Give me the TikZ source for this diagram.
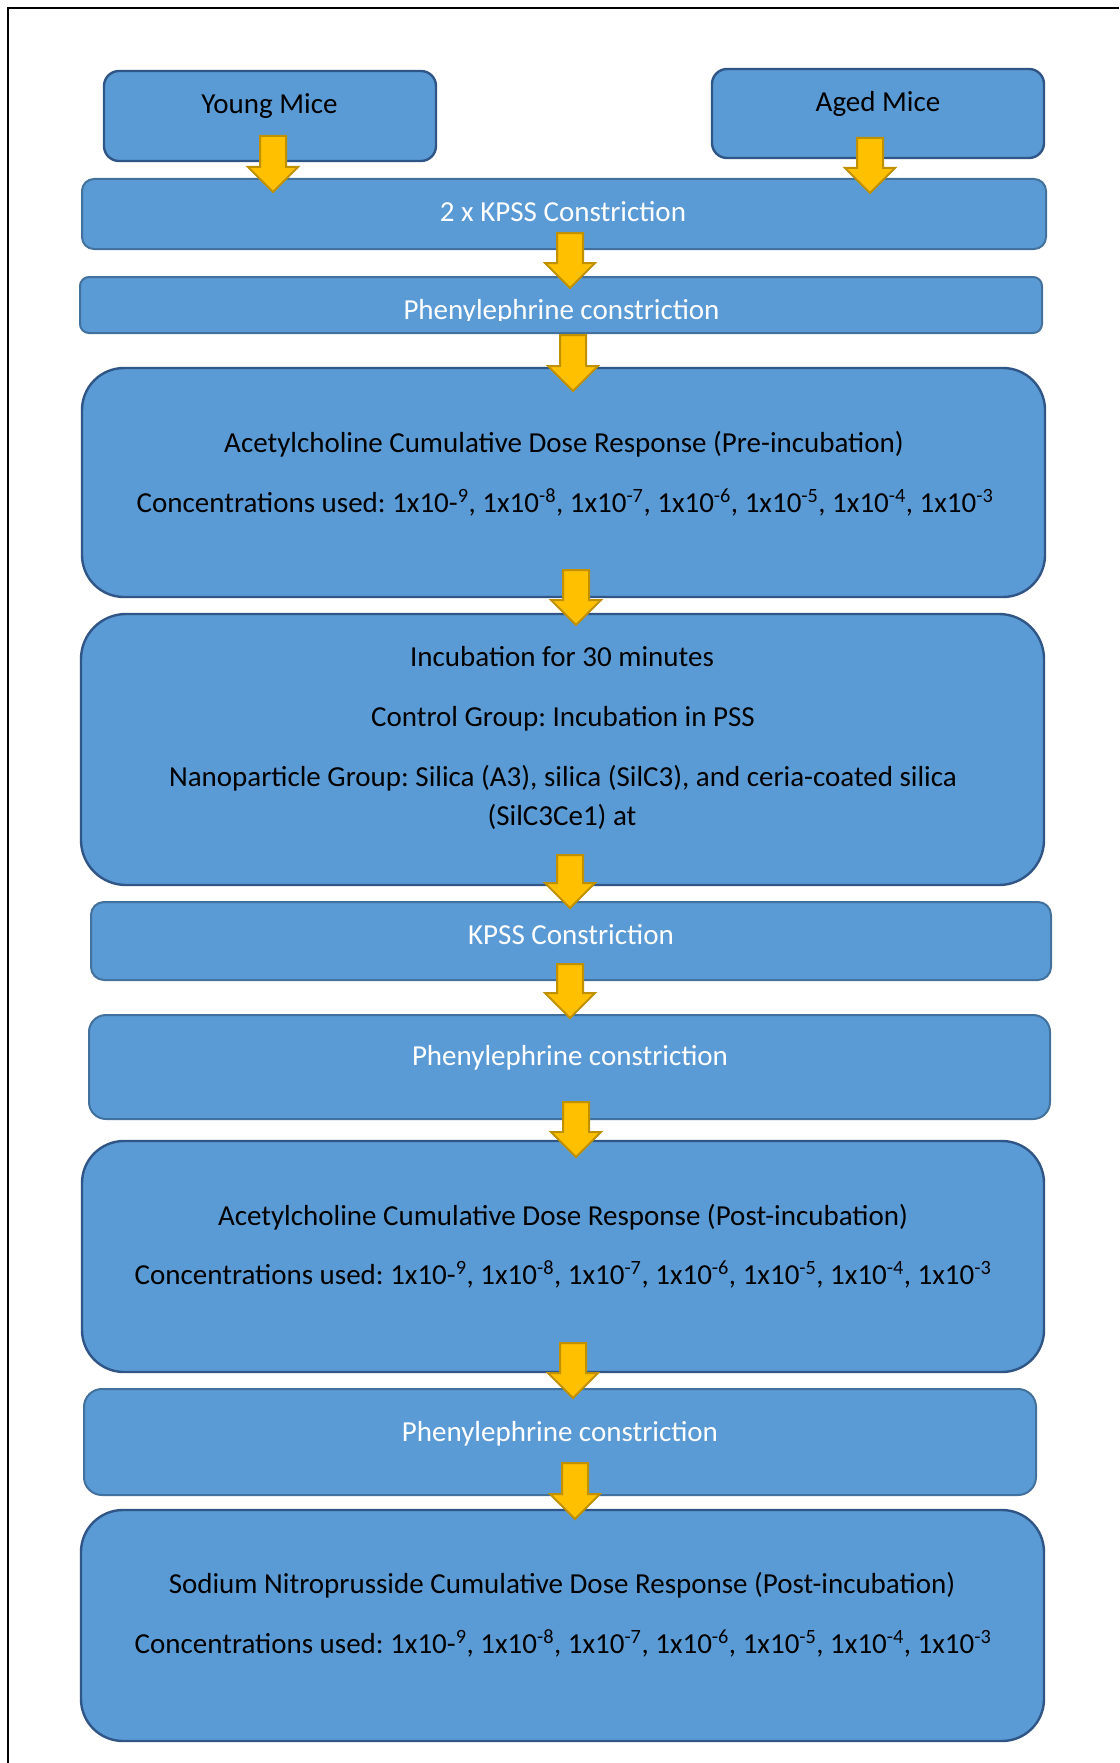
\documentclass[tikz,border=0pt]{standalone}
\usepackage{fontspec}
\setmainfont{Carlito}
\frenchspacing
\usetikzlibrary{calc}
\definecolor{boxfill}{HTML}{5B9BD5}
\definecolor{darkedge}{HTML}{2F5686}
\definecolor{lightedge}{HTML}{41719C}
\definecolor{arrfill}{HTML}{FFC000}
\definecolor{arredge}{HTML}{BF9000}
\tikzset{
  darkbox/.style={rectangle, draw=darkedge, fill=boxfill, line width=2.4pt, inner sep=0pt},
  lightbox/.style={rectangle, draw=lightedge, fill=boxfill, line width=2pt, inner sep=0pt},
  blacktxt/.style={font=\fontsize{29}{35}\selectfont, text=black, inner sep=0pt, anchor=base},
  whitetxt/.style={font=\fontsize{29}{35}\selectfont, text=white, inner sep=0pt, anchor=base},
  barrow/.style={fill=arrfill, draw=arredge, line width=2pt, line join=miter},
  frameline/.style={draw=black, line width=2.7pt}
}
% block arrow from coordinate #1 (shaft top) to coordinate #2 (tip); head starts 25pt above tip
\newcommand\blockarrow[2]{%
  \draw[barrow] let \p1=(#1), \p2=(#2) in
    (\x1-13pt,\y1) -- (\x1+13pt,\y1) -- (\x1+13pt,\y2+25pt) -- (\x1+25pt,\y2+25pt)
    -- (\x1,\y2) -- (\x1-25pt,\y2+25pt) -- (\x1-13pt,\y2+25pt) -- cycle;}
\newcommand\concline{Concentrations used: 1x10-\textsuperscript{9}, 1x10\textsuperscript{-8}, 1x10\textsuperscript{-7}, 1x10\textsuperscript{-6}, 1x10\textsuperscript{-5}, 1x10\textsuperscript{-4}, 1x10\textsuperscript{-3}}
\begin{document}
\begin{tikzpicture}[x=1pt,y=-1pt]
\useasboundingbox (0,0) rectangle (1119,1763);
\fill[white] (0,0) rectangle (1119,1763);
\coordinate (fbl) at (8,1763);
\coordinate (ftl) at (8,8);
\coordinate (ftr) at (1119,8);
\draw[frameline] (fbl) -- (ftl) -- (ftr);

% boxes
\node[darkbox, minimum width=332, minimum height=90, rounded corners=15] (young) at (270,116) {};
\node[darkbox, minimum width=332, minimum height=89, rounded corners=15] (aged) at (878,113.5) {};
\node[lightbox, minimum width=964, minimum height=70, rounded corners=12] (kpssa) at (564,214) {};
\node[lightbox, minimum width=962, minimum height=56, rounded corners=9] (phena) at (561,305) {};
\node[darkbox, minimum width=963, minimum height=229, rounded corners=42] (achpre) at (563.5,482.5) {};
\node[darkbox, minimum width=963, minimum height=271, rounded corners=45] (incub) at (562.5,749.5) {};
\node[lightbox, minimum width=960, minimum height=78, rounded corners=13] (kpssb) at (571,941) {};
\node[lightbox, minimum width=961, minimum height=104, rounded corners=17] (phenb) at (569.5,1067) {};
\node[darkbox, minimum width=962, minimum height=231, rounded corners=42] (achpost) at (563,1256.5) {};
\node[lightbox, minimum width=952, minimum height=106, rounded corners=18] (phenc) at (560,1442) {};
\node[darkbox, minimum width=963, minimum height=231, rounded corners=42] (snp) at (562.5,1625.5) {};

% texts
\node[blacktxt] (tyoung) at (269.5,114) {Young Mice};
\node[blacktxt] (taged) at (878,112) {Aged Mice};
\node[whitetxt] (tkpssa) at (563,221) {2 x KPSS Constriction};
\begin{scope}
  \clip (phena.north west) rectangle ($(phena.east)+(0,15)$);
  \node[whitetxt] (tphena) at (561.5,319.5) {Phenylephrine constriction};
\end{scope}
\node[blacktxt] (tachpreA) at (564,452) {Acetylcholine Cumulative Dose Response (Pre-incubation)};
\node[blacktxt] (tachpreB) at (565,512) {\concline};
\node[blacktxt] (tincA) at (562,666) {Incubation for 30 minutes};
\node[blacktxt] (tincB) at (563,726) {Control Group: Incubation in PSS};
\node[blacktxt] (tincC) at (563,786) {Nanoparticle Group: Silica (A3), silica (SilC3), and ceria-coated silica};
\node[blacktxt] (tincD) at (562,825) {(SilC3Ce1) at};
\node[whitetxt] (tkpssb) at (571,944) {KPSS Constriction};
\node[whitetxt] (tphenb) at (570,1065) {Phenylephrine constriction};
\node[blacktxt] (tachpostA) at (563,1225) {Acetylcholine Cumulative Dose Response (Post-incubation)};
\node[blacktxt] (tachpostB) at (563,1284) {\concline};
\node[whitetxt] (tphenc) at (560,1441) {Phenylephrine constriction};
\node[blacktxt] (tsnpA) at (562,1593) {Sodium Nitroprusside Cumulative Dose Response (Post-incubation)};
\node[blacktxt] (tsnpB) at (563,1653) {\concline};

% arrow end points
\coordinate (a1s) at (273,136);  \coordinate (a1e) at (273,192);
\coordinate (a2s) at (870,138);  \coordinate (a2e) at (870,193);
\coordinate (a3s) at (570,233);  \coordinate (a3e) at (570,288);
\coordinate (a4s) at (573,335);  \coordinate (a4e) at (573,391);
\coordinate (a5s) at (576,570);  \coordinate (a5e) at (576,625);
\coordinate (a6s) at (570,855);  \coordinate (a6e) at (570,908);
\coordinate (a7s) at (570,964);  \coordinate (a7e) at (570,1018);
\coordinate (a8s) at (576,1102); \coordinate (a8e) at (576,1157);
\coordinate (a9s) at (573,1343); \coordinate (a9e) at (573,1398);
\coordinate (a10s) at (575,1463); \coordinate (a10e) at (575,1519);

\blockarrow{a1s}{a1e}
\blockarrow{a2s}{a2e}
\blockarrow{a3s}{a3e}
\blockarrow{a4s}{a4e}
\blockarrow{a5s}{a5e}
\blockarrow{a6s}{a6e}
\blockarrow{a7s}{a7e}
\blockarrow{a8s}{a8e}
\blockarrow{a9s}{a9e}
\blockarrow{a10s}{a10e}
\end{tikzpicture}
\end{document}
